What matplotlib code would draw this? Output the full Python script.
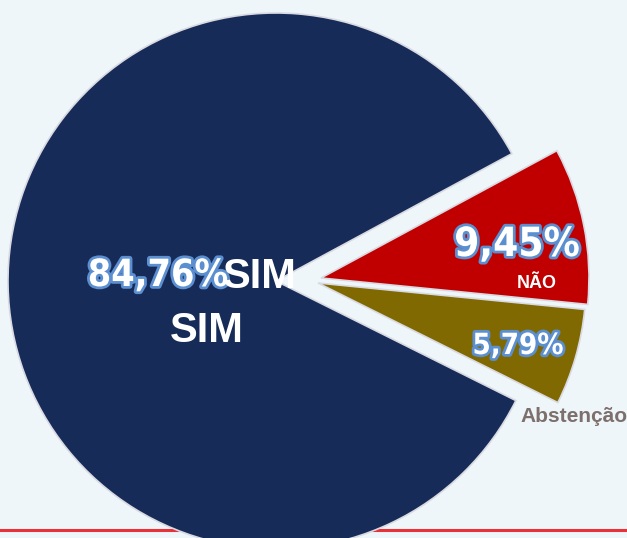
import matplotlib
matplotlib.use("Agg")
import matplotlib.pyplot as plt
import matplotlib.patheffects as pe

# data
labels = ["SIM", "NÃO", "Abstenção"]
values = [84.76, 9.45, 5.79]
pct_text = ["84,76%", "9,45%", "5,79%"]
colors = ["#162b58", "#c00000", "#806900"]

W, H = 627, 538
fig = plt.figure(figsize=(W / 100, H / 100), dpi=100)
fig.patch.set_facecolor("#eef6f9")
ax = fig.add_axes([0, 0, 1, 1])
ax.set_facecolor("#eef6f9")

# red rule at the bottom (behind the pie)
ax.plot([1, W], [H - 530, H - 530], color="#e8323a", lw=2.2, zorder=0)

cx, cy, R = 276, H - 281, 268
wedges, _ = ax.pie(values, colors=colors, startangle=-26.5,
                   counterclock=False, center=(cx, cy), radius=R,
                   wedgeprops=dict(edgecolor="#d9d9e2", linewidth=1.2))
for w in wedges:
    w.set_zorder(1)
# pull the two small slices out to the right, almost together
wedges[1].set_center((321, H - 278))
wedges[2].set_center((318, H - 283))

ax.set_xlim(0, W)
ax.set_ylim(0, H)
ax.set_aspect("equal")
ax.axis("off")

outline = [pe.withStroke(linewidth=4, foreground="#5b8fd0")]
num_prop = dict(family="DejaVu Sans", stretch="condensed")

def txt(x, y, s, size, color="white", effects=None, **kw):
    prop = dict(family="Liberation Sans")
    prop.update(kw)
    ax.text(x, H - y, s, fontsize=size, color=color, fontweight="bold",
            ha="center", va="center", path_effects=effects, zorder=3, **prop)

# percentages
txt(158, 276, pct_text[0], 27, effects=outline, **num_prop)
txt(517, 245, pct_text[1], 29, effects=outline, **num_prop)
txt(518, 346, pct_text[2], 21, effects=outline, **num_prop)

# category labels
txt(260, 277, labels[0], 30)
txt(207, 331, labels[0], 30)
txt(537, 284, labels[1], 13)
txt(574, 417, labels[2], 15, color="#7d6f6c")

fig.savefig("out.png", dpi=100, facecolor=fig.get_facecolor())
